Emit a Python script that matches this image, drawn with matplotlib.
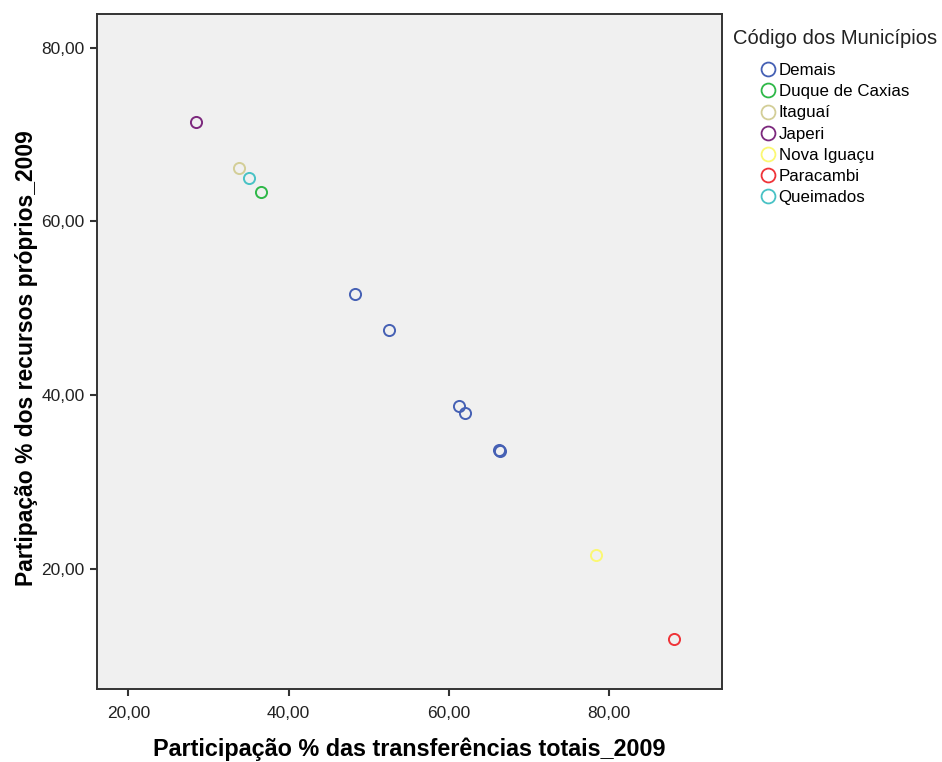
import matplotlib
matplotlib.use('Agg')
from matplotlib import pyplot as plt
from matplotlib.lines import Line2D
from matplotlib.ticker import FuncFormatter

plt.rcParams['font.family'] = ['Liberation Sans', 'DejaVu Sans']

# data
municipios = ['Demais', 'Duque de Caxias', 'Itaguaí', 'Japeri',
              'Nova Iguaçu', 'Paracambi', 'Queimados']
cores = ['#4560B4', '#2EB848', '#D3CE97', '#7C287D',
         '#FBF873', '#EF3338', '#48C2C5']

grupo = ['Demais', 'Demais', 'Demais', 'Demais', 'Demais', 'Demais',
         'Duque de Caxias', 'Itaguaí', 'Japeri', 'Nova Iguaçu',
         'Paracambi', 'Queimados']
transf = [48.3, 52.5, 61.3, 62.0, 66.3, 66.4,
          36.6, 33.8, 28.5, 78.3, 88.1, 35.0]
proprios = [51.7, 47.5, 38.7, 37.9, 33.7, 33.6,
            63.4, 66.1, 71.4, 21.6, 11.9, 65.0]

fig = plt.figure(figsize=(9.42, 7.62), dpi=100)
ax = fig.add_axes([0.103, 0.096, 0.663, 0.886])
ax.set_facecolor('#F0F0F0')

for m, c in zip(municipios, cores):
    xs = [x for x, g in zip(transf, grupo) if g == m]
    ys = [y for y, g in zip(proprios, grupo) if g == m]
    ax.plot(xs, ys, 'o', ms=8, mfc='none', mec=c, mew=1.4, ls='none')

ax.set_xlim(16.1, 94.0)
ax.set_ylim(6.2, 83.9)
ax.set_xticks([20, 40, 60, 80])
ax.set_yticks([20, 40, 60, 80])
fmt = FuncFormatter(lambda v, p: ('%.2f' % v).replace('.', ','))
ax.xaxis.set_major_formatter(fmt)
ax.yaxis.set_major_formatter(fmt)
ax.tick_params(direction='out', length=5, width=1.5, color='#333333',
               labelsize=12.5, labelcolor='#222222', pad=4)
ax.tick_params(axis='x', pad=7)
for s in ax.spines.values():
    s.set_linewidth(1.4)
    s.set_color('#333333')

ax.set_xlabel('Participação % das transferências totais_2009', fontsize=16.8,
              fontweight='bold', labelpad=12)
ax.set_ylabel('Partipação % dos recursos próprios_2009', fontsize=16.5,
              fontweight='bold', labelpad=2)
ax.yaxis.label.set_y(0.49)

fig.text(0.778, 0.950, 'Código dos Municípios', fontsize=14.5, color='#222222',
         va='center', ha='left')
handles = [Line2D([], [], marker='o', ls='none', ms=10, mfc='none', mec=c, mew=1.3)
           for c in cores]
fig.legend(handles, municipios, loc='upper left', bbox_to_anchor=(0.8085, 0.917),
           frameon=False, fontsize=12.2, handlelength=0.8, handletextpad=0.2,
           labelspacing=0.36, borderpad=0, borderaxespad=0)

fig.savefig('out.png', dpi=100)
